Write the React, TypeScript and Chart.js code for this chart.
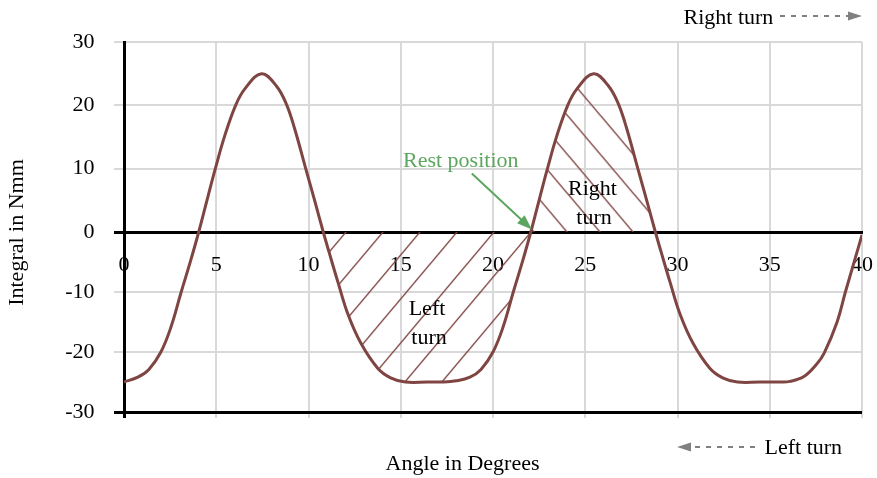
import React, { useEffect, useRef } from 'react';
import { Chart, registerables, LinearScale } from 'chart.js';

Chart.register(...registerables);

// Torque integral (Nmm) over the shaft angle (degrees)
const angles = [
  0, 0.75, 1.35, 2.0, 2.55, 3.1, 3.6, 4.05, 4.55, 4.95, 5.45, 6.05, 6.55, 7.45, 8.25, 8.8, 9.25, 9.85,
  10.35, 10.8, 11.1, 11.6, 12.15, 12.85, 13.75, 14.45, 15.25, 16.45, 17.25, 18.0, 18.75, 19.35, 20.0,
  20.55, 21.1, 21.6, 22.05, 22.55, 22.95, 23.45, 24.05, 24.55, 25.45, 26.25, 26.8, 27.25, 27.85, 28.35,
  28.8, 29.1, 29.6, 30.15, 30.85, 31.75, 32.45, 33.25, 34.45, 35.5, 36.1, 36.85, 37.55, 37.95, 38.65,
  39.1, 39.65, 40,
];
const integralNmm = [
  -25, -24.2, -22.9, -20, -15.8, -10, -4.9, 0, 5.6, 10, 15.1, 20, 22.6, 25, 23.1, 20.2, 16.3, 10,
  4.8, 0, -3.2, -8.4, -13.8, -18.6, -22.7, -24.3, -25, -25, -25, -24.8, -24.2, -22.9, -20,
  -15.8, -10, -4.9, 0, 5.6, 10, 15.1, 20, 22.6, 25, 23.1, 20.2, 16.3, 10, 4.8,
  0, -3.2, -8.4, -13.8, -18.6, -22.7, -24.3, -25, -25, -25, -24.9, -24.1, -22.0, -20.2, -15,
  -10, -4.2, -0.5,
];

// Angle ranges of the two turning directions
const leftTurnRange = [10.8, 22.05];
const rightTurnRange = [22.05, 28.8];
const restAngle = 22.05;

const xRange = [0, 40];
const xStep = 5;
const yRange = [-30, 30];
const yStep = 10;

const CURVE = '#7f4542';
const GRID = '#d9d9d9';
const GREEN = '#5ca65f';
const GRAY = '#808080';
const FONT = '"Liberation Serif", "Times New Roman", serif';
const FONT_22 = `22px ${FONT}`;

// Vertical scale whose zero sits at a fixed fraction of the height,
// each half being linear on its own.
const ZERO_AT = 180 / 370;
class SplitLinearScale extends LinearScale {
  static id = 'splitLinear';
  static defaults = LinearScale.defaults;
  getPixelForValue(value: number) {
    const self = this as any;
    const dec = value >= 0
      ? ZERO_AT + (value / self.max) * (1 - ZERO_AT)
      : ZERO_AT - (value / self.min) * ZERO_AT;
    return self.getPixelForDecimal(dec);
  }
  getValueForPixel(pixel: number) {
    const self = this as any;
    const dec = self.getDecimalForPixel(pixel);
    return dec >= ZERO_AT
      ? ((dec - ZERO_AT) / (1 - ZERO_AT)) * self.max
      : ((ZERO_AT - dec) / ZERO_AT) * self.min;
  }
}
Chart.register(SplitLinearScale as any);

// Diagonal hatching; a line of the family passes through (ax, ay)
function hatch(ctx: CanvasRenderingContext2D, spacing: number, rise: number, rising: boolean, ax: number, ay: number) {
  const tile = document.createElement('canvas');
  tile.width = spacing;
  tile.height = rise;
  const t = tile.getContext('2d')!;
  t.strokeStyle = CURVE;
  t.lineWidth = 1.4;
  for (let k = -1; k <= 1; k++) {
    t.beginPath();
    if (rising) {
      t.moveTo((k - 1) * spacing, 2 * rise);
      t.lineTo((k + 2) * spacing, -rise);
    } else {
      t.moveTo((k - 1) * spacing, -rise);
      t.lineTo((k + 2) * spacing, 2 * rise);
    }
    t.stroke();
  }
  const p = ctx.createPattern(tile, 'repeat')!;
  const tx = rising ? ax + (ay * spacing) / rise : ax - (ay * spacing) / rise;
  p.setTransform(new DOMMatrix([1, 0, 0, 1, tx, 0]));
  return p;
}

function arrowHead(ctx: CanvasRenderingContext2D, tipX: number, tipY: number, ux: number, uy: number, len: number, half: number) {
  const bx = tipX - ux * len;
  const by = tipY - uy * len;
  ctx.beginPath();
  ctx.moveTo(tipX, tipY);
  ctx.lineTo(bx - uy * half, by + ux * half);
  ctx.lineTo(bx + uy * half, by - ux * half);
  ctx.closePath();
  ctx.fill();
}

const annotations = {
  id: 'annotations',
  afterDatasetsDraw(chart: any) {
    const { ctx } = chart;
    const xs = chart.scales.x;
    const ys = chart.scales.y;
    ctx.save();
    ctx.font = FONT_22;
    ctx.textBaseline = 'alphabetic';

    // region labels
    ctx.fillStyle = '#000';
    ctx.textAlign = 'center';
    ctx.fillText('Right', 592.5, 194.5);
    ctx.fillText('turn', 594, 223.5);
    ctx.fillText('Left', 427, 314.5);
    ctx.fillText('turn', 429, 343.5);

    // rest position pointer
    ctx.fillStyle = GREEN;
    ctx.strokeStyle = GREEN;
    ctx.textAlign = 'left';
    ctx.fillText('Rest position', 403, 166.5);
    const tipX = xs.getPixelForValue(restAngle) + 1;
    const tipY = ys.getPixelForValue(0) - 2.5;
    const sx = tipX - 60;
    const sy = tipY - 56;
    const L = Math.hypot(tipX - sx, tipY - sy);
    const ux = (tipX - sx) / L;
    const uy = (tipY - sy) / L;
    ctx.lineWidth = 2;
    ctx.beginPath();
    ctx.moveTo(sx, sy);
    ctx.lineTo(tipX - ux * 12, tipY - uy * 12);
    ctx.stroke();
    arrowHead(ctx, tipX, tipY, ux, uy, 15, 5.5);

    // turning direction keys
    ctx.fillStyle = '#000';
    ctx.fillText('Right turn', 683.5, 23.5);
    ctx.fillText('Left turn', 764.5, 453.5);
    ctx.strokeStyle = GRAY;
    ctx.fillStyle = GRAY;
    ctx.lineWidth = 2;
    ctx.setLineDash([5, 6]);
    ctx.beginPath();
    ctx.moveTo(780, 16);
    ctx.lineTo(848, 16);
    ctx.moveTo(755, 447);
    ctx.lineTo(692, 447);
    ctx.stroke();
    ctx.setLineDash([]);
    arrowHead(ctx, 862, 16, 1, 0, 14, 4.5);
    arrowHead(ctx, 677, 447, -1, 0, 14, 4.5);

    // axis titles
    ctx.fillStyle = '#000';
    ctx.textAlign = 'center';
    ctx.fillText('Angle in Degrees', 462.5, 469.5);
    ctx.translate(22.5, 232.5);
    ctx.rotate(-Math.PI / 2);
    ctx.fillText('Integral in Nmm', 0, 0);
    ctx.restore();
  },
};

export default function App() {
  const ref = useRef<HTMLCanvasElement>(null);

  useEffect(() => {
    const canvas = ref.current!;
    const ctx = canvas.getContext('2d')!;
    const curve = angles.map((a, i) => ({ x: a, y: integralNmm[i] }));
    const within = (r: number[]) => curve.filter((p) => p.x >= r[0] && p.x <= r[1]);

    const leftPattern = hatch(ctx, 37, 44, true, 457, 232);
    const rightPattern = hatch(ctx, 33, 39, false, 600, 232);

    const gridColor = (edgeValues: number[]) => (c: any) => (edgeValues.includes(c.tick?.value) ? '#000' : GRID);
    const gridWidth = (edgeValues: number[]) => (c: any) => (edgeValues.includes(c.tick?.value) ? 3 : 2);

    const lineBase = { xAxisID: 'x', yAxisID: 'y', pointRadius: 0, tension: 0.4 };

    const chart = new Chart(canvas, {
      type: 'line',
      data: {
        datasets: [
          { ...lineBase, data: curve, borderColor: CURVE, borderWidth: 3, fill: false },
          {
            ...lineBase,
            data: within(leftTurnRange),
            borderColor: 'rgba(0,0,0,0)',
            borderWidth: 0,
            backgroundColor: leftPattern,
            fill: { value: 0 },
          },
          {
            ...lineBase,
            data: within(rightTurnRange),
            borderColor: 'rgba(0,0,0,0)',
            borderWidth: 0,
            backgroundColor: rightPattern,
            fill: { value: 0 },
          },
        ],
      } as any,
      options: {
        animation: false,
        responsive: false,
        events: [],
        layout: { padding: { left: 0, top: 42, right: 15, bottom: 56 } },
        plugins: { legend: { display: false }, tooltip: { enabled: false } },
        scales: {
          x: {
            type: 'linear',
            position: { y: 0 },
            min: xRange[0],
            max: xRange[1],
            ticks: { stepSize: xStep, padding: 20, color: '#000', font: { size: 22, family: FONT }, maxRotation: 0, autoSkip: false },
            grid: { color: GRID, lineWidth: 2, drawTicks: false },
            border: { color: '#000', width: 3 },
            afterFit: (s: any) => { s.paddingLeft = 0; s.paddingRight = 0; },
          },
          xTicks: {
            type: 'linear',
            axis: 'x',
            position: 'bottom',
            min: xRange[0],
            max: xRange[1],
            ticks: { stepSize: xStep, display: false },
            grid: { drawOnChartArea: false, tickLength: 6, color: gridColor([0]), lineWidth: gridWidth([0]) },
            border: { display: false },
            afterFit: (s: any) => { s.height = 10; },
          },
          y: {
            type: 'splitLinear',
            position: 'left',
            min: yRange[0],
            max: yRange[1],
            ticks: { stepSize: yStep, padding: 19.5, color: '#000', font: { size: 22, family: FONT } },
            grid: { tickLength: 10, color: gridColor([0, yRange[0]]), lineWidth: gridWidth([0, yRange[0]]) },
            border: { color: '#000', width: 3 },
            afterFit: (s: any) => { s.width = 124; s.paddingTop = 0; s.paddingBottom = 0; },
          },
        } as any,
      },
      plugins: [annotations],
    });
    return () => chart.destroy();
  }, []);

  return (
    <div style={{ position: 'absolute', left: 0, top: 0, width: 877, height: 478, background: '#fff' }}>
      <canvas ref={ref} width={877} height={478} style={{ display: 'block' }} />
    </div>
  );
}
